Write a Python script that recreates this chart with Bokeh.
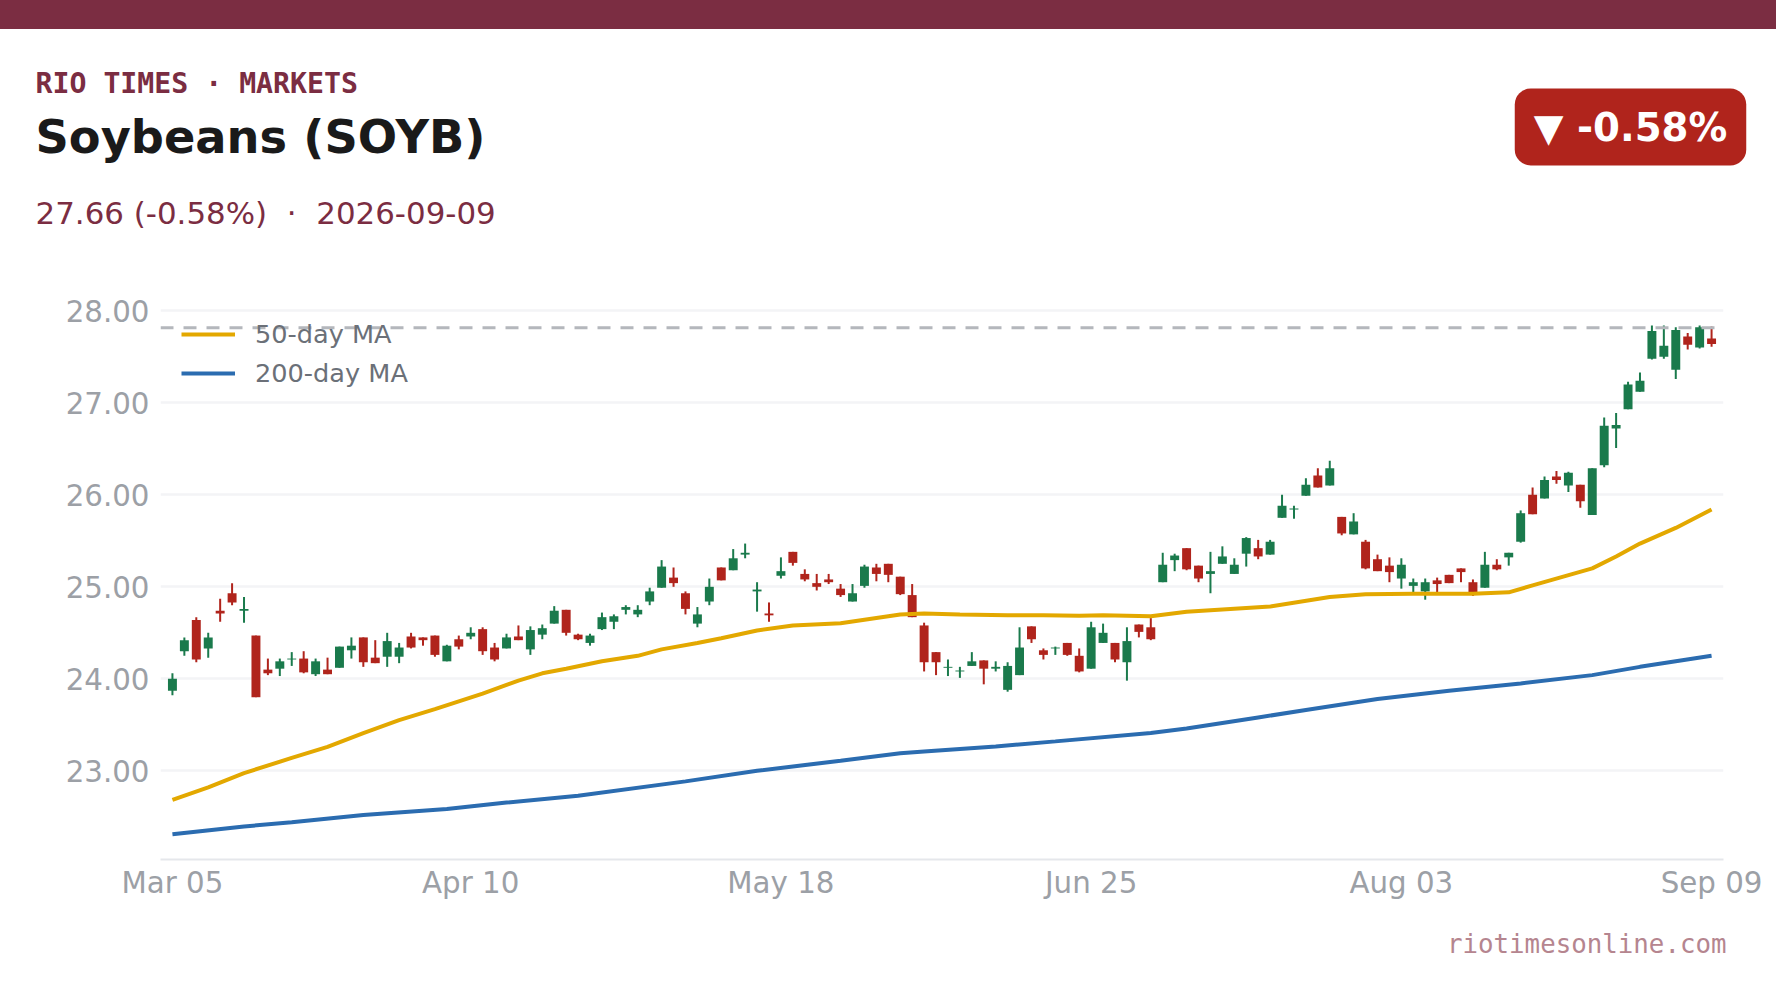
from bokeh.embed import file_html
from bokeh.layouts import column
from bokeh.models import ColumnDataSource, Div, FixedTicker, GlobalInlineStyleSheet, Label, NumeralTickFormatter, Span
from bokeh.plotting import figure
from bokeh.resources import INLINE

# daily candles
opens = [23.87, 24.30, 24.64, 24.33, 24.74, 24.93, 24.74, 24.47, 24.10, 24.11,
         24.21, 24.22, 24.05, 24.10, 24.12, 24.31, 24.45, 24.23, 24.24, 24.24,
         24.46, 24.45, 24.47, 24.19, 24.43, 24.46, 24.54, 24.34, 24.33, 24.46,
         24.32, 24.48, 24.60, 24.75, 24.48, 24.39, 24.54, 24.62, 24.75, 24.70,
         24.84, 24.99, 25.10, 24.93, 24.60, 24.84, 25.21, 25.18, 25.35, 24.95,
         24.71, 25.12, 25.38, 25.14, 25.04, 25.08, 24.98, 24.84, 25.01, 25.21,
         25.25, 25.11, 24.91, 24.58, 24.29, 24.12, 24.08, 24.14, 24.20, 24.11,
         23.88, 24.04, 24.57, 24.31, 24.33, 24.39, 24.25, 24.11, 24.39, 24.39,
         24.18, 24.59, 24.56, 25.05, 25.29, 25.42, 25.23, 25.14, 25.25, 25.14,
         25.36, 25.42, 25.35, 25.75, 25.84, 25.99, 26.21, 26.10, 25.76, 25.57,
         25.49, 25.30, 25.23, 25.09, 25.01, 24.95, 25.07, 25.13, 25.20, 25.05,
         24.99, 25.24, 25.32, 25.49, 26.00, 25.96, 26.20, 26.10, 26.11, 25.78,
         26.32, 26.72, 26.93, 27.12, 27.48, 27.50, 27.36, 27.72, 27.60, 27.70]
highs = [24.06, 24.45, 24.67, 24.50, 24.87, 25.04, 24.89, 24.47, 24.22, 24.22,
         24.29, 24.30, 24.22, 24.23, 24.35, 24.45, 24.45, 24.42, 24.50, 24.39,
         24.50, 24.45, 24.47, 24.37, 24.47, 24.56, 24.56, 24.39, 24.49, 24.58,
         24.57, 24.59, 24.79, 24.75, 24.49, 24.49, 24.72, 24.70, 24.80, 24.80,
         24.99, 25.29, 25.21, 24.95, 24.78, 25.09, 25.21, 25.41, 25.47, 25.05,
         24.83, 25.32, 25.38, 25.19, 25.14, 25.14, 25.03, 25.03, 25.24, 25.25,
         25.25, 25.11, 25.03, 24.61, 24.29, 24.21, 24.13, 24.29, 24.20, 24.19,
         24.18, 24.56, 24.57, 24.33, 24.35, 24.39, 24.33, 24.62, 24.60, 24.39,
         24.56, 24.59, 24.66, 25.37, 25.36, 25.42, 25.23, 25.38, 25.44, 25.31,
         25.54, 25.51, 25.51, 26.00, 25.88, 26.18, 26.29, 26.37, 25.76, 25.80,
         25.51, 25.35, 25.32, 25.31, 25.09, 25.09, 25.10, 25.13, 25.20, 25.08,
         25.38, 25.30, 25.37, 25.83, 26.08, 26.20, 26.26, 26.25, 26.11, 26.29,
         26.84, 26.89, 27.23, 27.33, 27.84, 27.84, 27.82, 27.76, 27.84, 27.83]
lows = [23.82, 24.25, 24.18, 24.23, 24.62, 24.80, 24.61, 23.80, 24.04, 24.03,
        24.14, 24.06, 24.03, 24.05, 24.12, 24.22, 24.13, 24.17, 24.13, 24.17,
        24.33, 24.36, 24.24, 24.19, 24.32, 24.43, 24.26, 24.19, 24.33, 24.42,
        24.26, 24.43, 24.60, 24.47, 24.42, 24.36, 24.53, 24.54, 24.70, 24.67,
        24.80, 24.99, 25.00, 24.70, 24.56, 24.80, 25.07, 25.18, 25.31, 24.73,
        24.62, 25.09, 25.23, 25.06, 24.96, 25.03, 24.89, 24.84, 24.99, 25.06,
        25.05, 24.91, 24.67, 24.08, 24.04, 24.03, 24.01, 24.14, 23.94, 24.08,
        23.86, 24.04, 24.39, 24.21, 24.26, 24.25, 24.07, 24.11, 24.39, 24.18,
        23.98, 24.45, 24.42, 25.05, 25.17, 25.18, 25.05, 24.93, 25.25, 25.14,
        25.22, 25.30, 25.35, 25.75, 25.74, 25.99, 26.08, 26.10, 25.56, 25.57,
        25.19, 25.17, 25.05, 24.98, 24.94, 24.86, 24.94, 25.04, 25.05, 24.90,
        24.99, 25.18, 25.23, 25.48, 25.79, 25.96, 26.12, 26.03, 25.86, 25.78,
        26.30, 26.51, 26.93, 27.12, 27.47, 27.48, 27.26, 27.58, 27.59, 27.61]
closes = [24.00, 24.42, 24.21, 24.45, 24.71, 24.83, 24.76, 23.80, 24.06, 24.19,
          24.22, 24.07, 24.19, 24.05, 24.35, 24.36, 24.18, 24.17, 24.41, 24.34,
          24.34, 24.42, 24.26, 24.36, 24.35, 24.50, 24.30, 24.21, 24.45, 24.42,
          24.53, 24.55, 24.74, 24.50, 24.43, 24.47, 24.67, 24.68, 24.78, 24.75,
          24.95, 25.22, 25.04, 24.76, 24.70, 25.00, 25.07, 25.31, 25.37, 24.97,
          24.69, 25.17, 25.26, 25.08, 25.00, 25.05, 24.91, 24.93, 25.22, 25.14,
          25.13, 24.92, 24.67, 24.18, 24.18, 24.13, 24.09, 24.19, 24.11, 24.13,
          24.14, 24.34, 24.43, 24.26, 24.34, 24.26, 24.08, 24.56, 24.50, 24.21,
          24.41, 24.51, 24.43, 25.24, 25.34, 25.19, 25.09, 25.17, 25.33, 25.24,
          25.53, 25.33, 25.49, 25.88, 25.85, 26.11, 26.08, 26.29, 25.58, 25.71,
          25.20, 25.17, 25.16, 25.24, 25.05, 25.05, 25.03, 25.04, 25.16, 24.94,
          25.24, 25.19, 25.37, 25.80, 25.79, 26.16, 26.16, 26.24, 25.93, 26.29,
          26.75, 26.76, 27.20, 27.24, 27.78, 27.62, 27.79, 27.63, 27.82, 27.64]

ma50_idx = [0, 3, 6, 10, 13, 16, 19, 22, 26, 29, 31, 33, 36, 39, 41, 44, 46, 49, 52, 56, 61,
            63, 66, 70, 73, 76, 78, 82, 85, 92, 97, 100, 104, 109, 112, 114, 119, 121, 123, 126, 129]
ma50 = [22.685, 22.82, 22.975, 23.14, 23.26, 23.41, 23.55, 23.67, 23.84, 23.98, 24.06, 24.11, 24.19,
        24.25, 24.32, 24.39, 24.44, 24.525, 24.58, 24.605, 24.70, 24.71, 24.70, 24.69, 24.69, 24.685,
        24.69, 24.68, 24.73, 24.785, 24.89, 24.92, 24.925, 24.925, 24.94, 25.015, 25.20, 25.33, 25.47,
        25.64, 25.84]
ma200_idx = [0, 6, 10, 16, 23, 28, 34, 43, 49, 56, 61, 63, 69, 74, 82, 85, 91, 95, 101, 107, 113, 119, 123, 129]
ma200 = [22.31, 22.395, 22.44, 22.52, 22.585, 22.655, 22.73, 22.885, 23.0, 23.11, 23.19, 23.21, 23.265,
         23.32, 23.41, 23.46, 23.58, 23.66, 23.78, 23.87, 23.95, 24.04, 24.13, 24.25]

high_52w = 27.815
x_tick_pos = [0, 25, 51, 77, 103, 129]
x_tick_labels = ["Mar 05", "Apr 10", "May 18", "Jun 25", "Aug 03", "Sep 09"]
y_ticks = [23, 24, 25, 26, 27, 28]

UP = "#1A7A4C"
DOWN = "#B0241C"
WINE = "#7B2D42"

idx = list(range(len(closes)))
src = ColumnDataSource(data=dict(
    x=idx,
    high=highs,
    low=lows,
    top=[max(o, c) for o, c in zip(opens, closes)],
    bottom=[min(o, c) for o, c in zip(opens, closes)],
    color=[UP if c >= o else DOWN for o, c in zip(opens, closes)],
))

bar = Div(text="", width=1776, height=29, margin=0, styles={"background": WINE})
bar.stylesheets = [GlobalInlineStyleSheet(css="html,body{margin:0;overflow:hidden}")]


# blank strip whose frame is the whole figure, labels on it are placed from its bottom left
def text_strip(height):
    s = figure(width=1776, height=height, output_backend="svg", toolbar_location=None, tools="",
               x_range=(0, 1776), y_range=(0, height), x_axis_location=None, y_axis_location=None,
               min_border=0, outline_line_color=None, frame_align=False)
    s.grid.grid_line_color = None
    return s


def add_text(s, text, x, y, size, color, font="DejaVu Sans", style="normal", align="left", baseline="alphabetic", **kw):
    s.add_layout(Label(x=x, y=y, x_units="screen", y_units="screen", text=text, text_font=font,
                       text_font_size=size, text_color=color, text_font_style=style,
                       text_align=align, text_baseline=baseline, **kw))


head = text_strip(251)
add_text(head, "RIO TIMES · MARKETS", 35, 197, "28.2px", WINE, font="DejaVu Sans Mono", style="bold")
add_text(head, "Soybeans (SOYB)", 35, 144, "46.3px", "#1A1A1A", style="bold")
add_text(head, "27.66 (-0.58%)\u00a0\u00a0·\u00a0\u00a02026-09-09", 35, 68, "30.9px", WINE)
add_text(head, "▼ -0.58%", 1630, 153.5, "38.7px", "white", style="bold", align="center", baseline="middle",
         background_fill_color=DOWN, padding=(19, 16), border_radius=16)

p = figure(width=1776, height=635, output_backend="svg", toolbar_location=None, tools="",
           x_range=(-1, 130), y_range=(22.036, 28.112),
           min_border_left=160, min_border_right=53, min_border_top=20, min_border_bottom=56,
           background_fill_color="white", border_fill_color="white", outline_line_color=None, frame_align=False)

p.xgrid.grid_line_color = None
p.ygrid.grid_line_color = "#F3F4F6"
p.ygrid.grid_line_width = 2.5
p.ygrid.ticker = FixedTicker(ticks=y_ticks)

p.yaxis.ticker = FixedTicker(ticks=y_ticks)
p.yaxis.formatter = NumeralTickFormatter(format="0.00")
p.yaxis.axis_line_color = None
p.yaxis.major_tick_line_color = None
p.yaxis.minor_tick_line_color = None
p.yaxis.major_label_text_font = "DejaVu Sans"
p.yaxis.major_label_text_font_size = "29.3px"
p.yaxis.major_label_text_color = "#9CA0A6"
p.yaxis.major_label_standoff = 5

p.xaxis.ticker = FixedTicker(ticks=x_tick_pos)
p.xaxis.major_label_overrides = dict(zip(x_tick_pos, x_tick_labels))
p.xaxis.axis_line_color = "#E5E7EB"
p.xaxis.axis_line_width = 2
p.xaxis.major_tick_line_color = None
p.xaxis.minor_tick_line_color = None
p.xaxis.major_label_text_font = "DejaVu Sans"
p.xaxis.major_label_text_font_size = "29.3px"
p.xaxis.major_label_text_color = "#9CA0A6"
p.xaxis.major_label_standoff = 0

p.add_layout(Span(location=high_52w, dimension="width", line_color="#B4B7BC", line_width=3, line_dash="13 10"))

p.segment("x", "high", "x", "low", source=src, line_color="color", line_width=2)
p.vbar("x", top="top", bottom="bottom", width=0.75, source=src, fill_color="color", line_color=None)

p.line(ma50_idx, ma50, line_color="#E3A800", line_width=4, legend_label="50-day MA")
p.line(ma200_idx, ma200, line_color="#2B6CB0", line_width=4, legend_label="200-day MA")

p.legend.location = (21, 471)
p.legend.margin = 0
p.legend.padding = 1
p.legend.border_line_color = None
p.legend.background_fill_alpha = 0
p.legend.glyph_width = 54
p.legend.glyph_height = 24
p.legend.label_height = 30
p.legend.spacing = 9
p.legend.label_standoff = 20
p.legend.label_text_font = "DejaVu Sans"
p.legend.label_text_font_size = "25.6px"
p.legend.label_text_color = "#6B7078"

foot = text_strip(84)
add_text(foot, "riotimesonline.com", 1726, 56, "25.8px", "#B5858F", font="DejaVu Sans Mono", align="right")

open("out.html", "w").write(file_html(column(bar, head, p, foot, spacing=0), INLINE))
